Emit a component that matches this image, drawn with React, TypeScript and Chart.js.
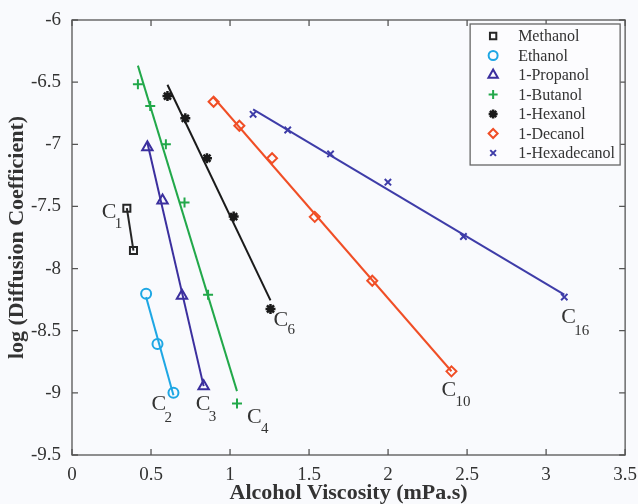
import React, { useEffect, useRef } from "react";
import { Chart, registerables } from "chart.js";
import { drawPoint } from "chart.js/helpers";

Chart.register(...registerables);

// ---------- data ----------
const seriesNames = ["Methanol", "Ethanol", "1-Propanol", "1-Butanol", "1-Hexanol", "1-Decanol", "1-Hexadecanol"];

const methanolX = [0.347, 0.389];
const methanolY = [-7.514, -7.855];

const ethanolX = [0.469, 0.541, 0.642];
const ethanolY = [-8.202, -8.606, -9.0];

const propanolX = [0.477, 0.573, 0.696, 0.833];
const propanolY = [-7.024, -7.453, -8.218, -8.947];

const butanolX = [0.417, 0.495, 0.594, 0.712, 0.861, 1.044];
const butanolY = [-6.516, -6.692, -7.0, -7.469, -8.21, -9.086];

const hexanolX = [0.604, 0.717, 0.854, 1.023, 1.256];
const hexanolY = [-6.612, -6.791, -7.112, -7.582, -8.325];

const decanolX = [0.896, 1.059, 1.266, 1.536, 1.9, 2.401];
const decanolY = [-6.658, -6.851, -7.112, -7.584, -8.098, -8.827];

const hexadecanolX = [1.146, 1.365, 1.636, 1.999, 2.477, 3.115];
const hexadecanolY = [-6.759, -6.885, -7.078, -7.305, -7.742, -8.229];

const xTicks = [0, 0.5, 1, 1.5, 2, 2.5, 3, 3.5];
const yTicks = [-6, -6.5, -7, -7.5, -8, -8.5, -9, -9.5];

const carbonSubs = ["1", "2", "3", "4", "6", "10", "16"];

// ---------- styles ----------
const seriesX = [methanolX, ethanolX, propanolX, butanolX, hexanolX, decanolX, hexadecanolX];
const seriesY = [methanolY, ethanolY, propanolY, butanolY, hexanolY, decanolY, hexadecanolY];
const colors = ["#262626", "#1ea7e4", "#3b2f9e", "#22a84a", "#1a1a1a", "#f04e26", "#3e3ca8"];
const markers: any[] = [
  { style: "rect", r: 5, w: 2 },
  { style: "circle", r: 5, w: 2 },
  { style: "triangle", r: 6, w: 2 },
  { style: "cross", r: 5, w: 2 },
  { style: "star", r: 5, w: 2.5 },
  { style: "rectRot", r: 5, w: 2 },
  { style: "crossRot", r: 4.5, w: 2 },
];
// label placement (pixel offsets from the last point of each series; first point for methanol)
const labelPlacement = [
  { idx: 0, dx: -25, dy: 10, sdx: -12, sdy: 20 },
  { idx: -1, dx: -22, dy: 17, sdx: -9, sdy: 29 },
  { idx: -1, dx: -8, dy: 24, sdx: 5, sdy: 35 },
  { idx: -1, dx: 10, dy: 19, sdx: 24, sdy: 29 },
  { idx: -1, dx: 3, dy: 17, sdx: 17, sdy: 25 },
  { idx: -1, dx: -10, dy: 25, sdx: 4, sdy: 35 },
  { idx: -1, dx: -3, dy: 26, sdx: 10, sdy: 38 },
];

const SERIF = "'Liberation Serif', 'DejaVu Serif', serif";

function fit(xs: number[], ys: number[]) {
  const n = xs.length;
  const mx = xs.reduce((a, b) => a + b, 0) / n;
  const my = ys.reduce((a, b) => a + b, 0) / n;
  let sxy = 0, sxx = 0;
  for (let i = 0; i < n; i++) {
    sxy += (xs[i] - mx) * (ys[i] - my);
    sxx += (xs[i] - mx) * (xs[i] - mx);
  }
  const b = sxy / sxx;
  const a = my - b * mx;
  const x0 = Math.min(...xs), x1 = Math.max(...xs);
  return [{ x: x0, y: a + b * x0 }, { x: x1, y: a + b * x1 }];
}

const decorPlugin = {
  id: "decor",
  beforeDraw(chart: any) {
    const ctx = chart.ctx;
    ctx.save();
    ctx.fillStyle = "#f9fafd";
    ctx.fillRect(0, 0, chart.width, chart.height);
    ctx.restore();
  },
  afterDraw(chart: any) {
    const ctx = chart.ctx;
    const { left, right, top, bottom } = chart.chartArea;
    const xs = chart.scales.x, ys = chart.scales.y;
    ctx.save();
    // frame
    ctx.strokeStyle = "#555";
    ctx.lineWidth = 1.3;
    ctx.strokeRect(left, top, right - left, bottom - top);
    const tl = 6;
    ctx.beginPath();
    xTicks.forEach((v) => {
      const p = xs.getPixelForValue(v);
      ctx.moveTo(p, bottom); ctx.lineTo(p, bottom - tl);
      ctx.moveTo(p, top); ctx.lineTo(p, top + tl);
    });
    yTicks.forEach((v) => {
      const p = ys.getPixelForValue(v);
      ctx.moveTo(left, p); ctx.lineTo(left + tl, p);
      ctx.moveTo(right, p); ctx.lineTo(right - tl, p);
    });
    ctx.stroke();

    // carbon labels
    ctx.fillStyle = "#333";
    ctx.textAlign = "left";
    ctx.textBaseline = "alphabetic";
    labelPlacement.forEach((lp, s) => {
      const X = seriesX[s], Y = seriesY[s];
      const i = lp.idx < 0 ? X.length - 1 : lp.idx;
      const px = xs.getPixelForValue(X[i]);
      const py = ys.getPixelForValue(Y[i]);
      ctx.font = `22px ${SERIF}`;
      ctx.fillText("C", px + lp.dx, py + lp.dy);
      ctx.font = `15px ${SERIF}`;
      ctx.fillText(carbonSubs[s], px + lp.sdx, py + lp.sdy);
    });

    // legend box
    const bx = right - 155, by = top + 4, bw = 150, bh = 141;
    ctx.fillStyle = "#fcfcfe";
    ctx.fillRect(bx, by, bw, bh);
    ctx.strokeStyle = "#666";
    ctx.lineWidth = 1.3;
    ctx.strokeRect(bx, by, bw, bh);
    ctx.font = `16px ${SERIF}`;
    ctx.textBaseline = "middle";
    seriesNames.forEach((name, s) => {
      const cy = by + 12 + s * 19.5;
      const m = markers[s];
      ctx.strokeStyle = colors[s];
      ctx.fillStyle = "rgba(0,0,0,0)";
      ctx.lineWidth = m.w;
      drawPoint(ctx, { pointStyle: m.style, radius: m.r * 0.9, rotation: 0, borderWidth: m.w }, bx + 23, cy);
      ctx.fillStyle = "#333";
      ctx.fillText(name, bx + 48, cy + 1);
    });
    ctx.restore();
  },
};

export default function App() {
  const ref = useRef<HTMLCanvasElement>(null);
  useEffect(() => {
    document.body.style.margin = "0";
    document.body.style.background = "#f9fafd";
    const lineSets = seriesNames.map((name, s) => ({
      type: "line" as const,
      label: name + " fit",
      data: fit(seriesX[s], seriesY[s]),
      borderColor: colors[s],
      borderWidth: 2,
      pointRadius: 0,
      showLine: true,
      fill: false,
      order: 2,
    }));
    const pointSets = seriesNames.map((name, s) => ({
      type: "scatter" as const,
      label: name,
      data: seriesX[s].map((x, i) => ({ x, y: seriesY[s][i] })),
      pointStyle: markers[s].style,
      pointRadius: markers[s].r,
      pointBorderWidth: markers[s].w,
      pointBorderColor: colors[s],
      pointBackgroundColor: "rgba(0,0,0,0)",
      borderColor: colors[s],
      backgroundColor: "rgba(0,0,0,0)",
      showLine: false,
      order: 1,
    }));
    const tickFont = { family: SERIF, size: 19 };
    const chart = new Chart(ref.current!, {
      type: "scatter",
      data: { datasets: [...lineSets, ...pointSets] as any },
      options: {
        animation: false,
        responsive: false,
        devicePixelRatio: 1,
        layout: { padding: { top: 20, right: 9, left: 0, bottom: 0 } },
        plugins: { legend: { display: false }, tooltip: { enabled: false } },
        scales: {
          x: {
            type: "linear",
            min: 0,
            max: 3.5,
            afterBuildTicks: (s: any) => { s.ticks = xTicks.map((v) => ({ value: v })); },
            ticks: { font: tickFont, color: "#333", padding: 1, maxRotation: 0, autoSkip: false, callback: (v: any) => String(v) },
            grid: { display: false },
            border: { display: false },
            title: { display: true, text: "Alcohol Viscosity (mPa.s)", color: "#333", font: { family: SERIF, size: 22, weight: "bold" }, padding: { top: 0, bottom: -3 } },
            afterFit: (s: any) => { s.height = 49; },
          },
          y: {
            type: "linear",
            min: -9.5,
            max: -6,
            afterBuildTicks: (s: any) => { s.ticks = yTicks.map((v) => ({ value: v })); },
            ticks: { font: tickFont, color: "#333", padding: 3, autoSkip: false, callback: (v: any) => String(v) },
            grid: { display: false },
            border: { display: false },
            title: { display: true, text: "log (Diffusion Coefficient)", color: "#333", font: { family: SERIF, size: 22, weight: "bold" }, padding: { top: 4, bottom: 0 } },
            afterFit: (s: any) => { s.width = 72; },
          },
        },
      } as any,
      plugins: [decorPlugin],
    });
    return () => chart.destroy();
  }, []);
  return (
    <canvas ref={ref} width={638} height={504} style={{ position: "absolute", left: 0, top: 0, display: "block" }} />
  );
}
